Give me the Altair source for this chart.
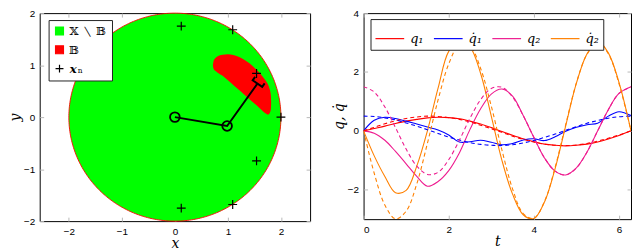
import altair as alt
import numpy as np
import pandas as pd

# ---------------- left panel data ----------------
DISK_RADIUS = 2.0
BLOB_X = [0.716, 0.73, 0.76, 0.80, 0.90, 1.00, 1.10, 1.20, 1.30, 1.40, 1.50, 1.60, 1.70, 1.76, 1.79, 1.81, 1.815]
BLOB_UPPER = [1.00, 1.08, 1.13, 1.165, 1.20, 1.21, 1.195, 1.16, 1.11, 1.04, 0.95, 0.85, 0.72, 0.62, 0.53, 0.42, 0.30]
BLOB_LOWER = [1.00, 0.93, 0.89, 0.86, 0.795, 0.71, 0.62, 0.53, 0.44, 0.35, 0.26, 0.17, 0.08, 0.05, 0.08, 0.15, 0.25]
ARM_X = [0.0, 0.985, 1.557]
ARM_Y = [0.0, -0.17, 0.645]
GRIPPER_X = [1.513, 1.467, 1.647, 1.693]
GRIPPER_Y = [0.774, 0.708, 0.582, 0.648]
JOINT_X = [0.0, 0.985]
JOINT_Y = [0.0, -0.17]
XN_X = [0.12, 1.09, 1.54, 2.0, 1.54, 1.09, 0.12]
XN_Y = [1.75, 1.68, 0.84, 0.0, -0.84, -1.68, -1.75]
LEFT_CATS = ["𝕏 ∖ 𝔹", "𝔹", "𝒙ₙ"]
LEFT_COLORS = ["#00ff00", "#ff0000", "#000000"]
PLUS = "M-1,0H1M0,-1V1"
LEFT_TICKS = [-2, -1, 0, 1, 2]

# ---------------- right panel data ----------------
T = [0.0, 0.25, 0.5, 0.75, 1.0, 1.25, 1.5, 1.75, 2.0, 2.25, 2.5, 2.75, 3.0, 3.25,
     3.5, 3.75, 4.0, 4.25, 4.5, 4.75, 5.0, 5.25, 5.5, 5.75, 6.0, 6.283]
Q1 = [0, 0.08, 0.16, 0.25, 0.33, 0.39, 0.44, 0.46, 0.45, 0.41, 0.33, 0.23, 0.11, -0.02,
      -0.15, -0.27, -0.37, -0.45, -0.49, -0.51, -0.49, -0.45, -0.38, -0.28, -0.16, 0.0]
Q1_REF = [0, 0.12, 0.24, 0.34, 0.42, 0.47, 0.5, 0.49, 0.45, 0.39, 0.3, 0.19, 0.07, -0.05,
          -0.18, -0.29, -0.38, -0.45, -0.49, -0.5, -0.48, -0.43, -0.35, -0.25, -0.14, 0.0]
DQ1 = [0, 0.36, 0.46, 0.42, 0.33, 0.23, 0.13, 0.03, -0.14, -0.38, -0.37, -0.32, -0.39, -0.47,
       -0.43, -0.31, -0.27, -0.33, -0.2, -0.01, 0.12, 0.21, 0.26, 0.5, 0.65, 0.52]
DQ1_REF = [0.5, 0.49, 0.44, 0.37, 0.27, 0.16, 0.04, -0.09, -0.21, -0.31, -0.4, -0.46, -0.49, -0.5,
           -0.47, -0.41, -0.33, -0.22, -0.11, 0.02, 0.14, 0.26, 0.35, 0.43, 0.48, 0.5]
Q2 = [0, -0.08, -0.32, -0.7, -1.12, -1.55, -1.88, -1.72, -1.35, -0.75, 0.05, 0.75, 1.25, 1.42,
      1.18, 0.52, -0.22, -0.92, -1.37, -1.5, -1.26, -0.72, 0.0, 0.72, 1.27, 1.5]
Q2_REF = [1.5, 1.32, 0.81, 0.11, -0.62, -1.2, -1.48, -1.41, -0.98, -0.32, 0.43, 1.06, 1.44, 1.48,
          1.15, 0.52, -0.22, -0.92, -1.37, -1.5, -1.26, -0.72, 0.0, 0.72, 1.27, 1.5]
DQ2 = [0, -0.85, -1.55, -2.1, -2.02, -1.2, 0.0, 1.45, 2.7, 3.05, 2.85, 1.95, 0.5, -1.0,
       -2.15, -2.85, -2.98, -2.42, -1.28, 0.18, 1.62, 2.62, 3.05, 2.65, 1.65, 0.0]
DQ2_REF = [0, -1.44, -2.52, -2.99, -2.73, -1.8, -0.42, 1.05, 2.27, 2.93, 2.88, 2.12, 0.84, -0.65,
           -1.97, -2.81, -2.97, -2.4, -1.24, 0.22, 1.63, 2.6, 3.0, 2.62, 1.61, 0.0]
SERIES = ["q₁", "q̇₁", "q₂", "q̇₂"]
COLORS = ["#ff0000", "#0000ff", "#ee1b8f", "#ff8000"]
RIGHT_XTICKS = [0, 2, 4, 6]
RIGHT_YTICKS = [-2, 0, 2, 4]

TICK_GRAY = "#b8b8b8"
MATH_FONT = "DejaVu Math TeX Gyre, DejaVu Serif"


def main_axis(orient, values, title):
    return alt.Axis(orient=orient, values=values, title=title, offset=-4, tickSize=4,
                    tickColor=TICK_GRAY, domain=False, grid=False,
                    labelPadding=5, labelFont="Liberation Sans", labelFontSize=10,
                    labelColor="black", titleFont="DejaVu Serif", titleFontStyle="italic",
                    titleFontWeight="normal", titleFontSize=14, titleColor="black",
                    titlePadding=1)


def tick_axis(orient, values):
    return alt.Axis(orient=orient, values=values, title=None, offset=-4, tickSize=4,
                    tickColor=TICK_GRAY, domain=False, grid=False, labels=False)


# ---------------- left panel ----------------
th = np.linspace(0, np.pi, 181)
disk_df = pd.DataFrame({"x": DISK_RADIUS * np.cos(th),
                        "yu": DISK_RADIUS * np.sin(th),
                        "yl": -DISK_RADIUS * np.sin(th)})
ph = np.linspace(0, 2 * np.pi, 361)
ring_df = pd.DataFrame({"x": DISK_RADIUS * np.cos(ph), "y": DISK_RADIUS * np.sin(ph),
                        "i": np.arange(len(ph))})
blob_df = pd.DataFrame({"x": BLOB_X, "yu": BLOB_UPPER, "yl": BLOB_LOWER})
arm_df = pd.DataFrame({"x": ARM_X, "y": ARM_Y, "i": range(len(ARM_X))})
grip_df = pd.DataFrame({"x": GRIPPER_X, "y": GRIPPER_Y, "i": range(len(GRIPPER_X))})
joint_df = pd.DataFrame({"x": JOINT_X, "y": JOINT_Y})
xn_df = pd.DataFrame({"x": XN_X, "y": XN_Y, "cat": [LEFT_CATS[2]] * len(XN_X)})

xs = alt.Scale(domain=[-2.55, 2.55], nice=False, zero=False)
ys = alt.Scale(domain=[-2, 2], nice=False, zero=False)

disk = alt.Chart(disk_df).mark_area(color="#00ff00", opacity=1).encode(
    x=alt.X("x:Q", scale=xs, axis=main_axis("bottom", LEFT_TICKS, "x")),
    y=alt.Y("yl:Q", scale=ys, axis=main_axis("left", LEFT_TICKS, "y")),
    y2="yu:Q")
ring = alt.Chart(ring_df).mark_line(color="#ff0000", strokeWidth=0.9).encode(
    x=alt.X("x:Q", scale=xs, axis=tick_axis("top", LEFT_TICKS)),
    y=alt.Y("y:Q", scale=ys, axis=tick_axis("right", LEFT_TICKS)),
    order="i:Q")
blob = alt.Chart(blob_df).mark_area(color="#ff0000", opacity=1, interpolate="monotone").encode(
    x=alt.X("x:Q", scale=xs, axis=None),
    y=alt.Y("yl:Q", scale=ys, axis=None),
    y2="yu:Q")
arm = alt.Chart(arm_df).mark_line(color="black", strokeWidth=2).encode(
    x=alt.X("x:Q", scale=xs, axis=None), y=alt.Y("y:Q", scale=ys, axis=None), order="i:Q")
grip = alt.Chart(grip_df).mark_line(color="black", strokeWidth=2).encode(
    x=alt.X("x:Q", scale=xs, axis=None), y=alt.Y("y:Q", scale=ys, axis=None), order="i:Q")
joints = alt.Chart(joint_df).mark_point(shape="circle", size=95, filled=False, color="black",
                                        strokeWidth=1.8, opacity=1).encode(
    x=alt.X("x:Q", scale=xs, axis=None), y=alt.Y("y:Q", scale=ys, axis=None))

left_legend = alt.Legend(title=None, orient="none", legendX=9, legendY=7, direction="vertical",
                         fillColor="white", strokeColor="#222222", padding=5,
                         labelFont=MATH_FONT, labelFontSize=12, labelColor="black",
                         symbolSize=64, rowPadding=5, labelOffset=3, symbolStrokeWidth=1.2,
                         cornerRadius=0)
plus = alt.Chart(xn_df).mark_point(filled=True, size=80, strokeWidth=1.2, opacity=1).encode(
    x=alt.X("x:Q", scale=xs, axis=None), y=alt.Y("y:Q", scale=ys, axis=None),
    fill=alt.Fill("cat:N", scale=alt.Scale(domain=LEFT_CATS, range=LEFT_COLORS), legend=left_legend),
    stroke=alt.Stroke("cat:N", scale=alt.Scale(domain=LEFT_CATS, range=LEFT_COLORS), legend=left_legend),
    shape=alt.Shape("cat:N", scale=alt.Scale(domain=LEFT_CATS, range=["square", "square", PLUS]),
                    legend=left_legend))

left = alt.layer(disk, ring, blob, arm, grip, joints, plus).resolve_axis(
    x="independent", y="independent").properties(width=273, height=210)

# ---------------- right panel ----------------
solid_vals = [Q1, DQ1, Q2, DQ2]
ref_vals = [Q1_REF, DQ1_REF, Q2_REF, DQ2_REF]
solid_df = pd.DataFrame([{"t": t, "v": v, "s": s} for s, vals in zip(SERIES, solid_vals)
                         for t, v in zip(T, vals)])
ref_df = pd.DataFrame([{"t": t, "v": v, "s": s} for s, vals in zip(SERIES, ref_vals)
                       for t, v in zip(T, vals)])

ts = alt.Scale(domain=[0, 6.283], nice=False, zero=False)
vs = alt.Scale(domain=[-3, 4], nice=False, zero=False)
cs = alt.Scale(domain=SERIES, range=COLORS)

# legends of a concatenated chart are placed relative to the first panel's plot origin
right_legend = alt.Legend(title=None, orient="none", legendX=334, legendY=6, direction="horizontal",
                          columns=4, fillColor="white", strokeColor="#222222", padding=4,
                          labelFont="DejaVu Serif", labelFontStyle="italic", labelFontSize=13,
                          labelColor="black", symbolType="stroke", symbolSize=840,
                          symbolStrokeWidth=1.2, columnPadding=7, labelOffset=5, cornerRadius=0)

solid = alt.Chart(solid_df).mark_line(strokeWidth=1.1, clip=True, interpolate="catmull-rom").encode(
    x=alt.X("t:Q", scale=ts, axis=main_axis("bottom", RIGHT_XTICKS, "t")),
    y=alt.Y("v:Q", scale=vs, axis=main_axis("left", RIGHT_YTICKS, "q, q̇")),
    color=alt.Color("s:N", scale=cs, legend=right_legend),
    detail="s:N")
dashed = alt.Chart(ref_df).mark_line(strokeWidth=1.1, clip=True, strokeDash=[4, 3],
                                     interpolate="catmull-rom").encode(
    x=alt.X("t:Q", scale=ts, axis=tick_axis("top", RIGHT_XTICKS)),
    y=alt.Y("v:Q", scale=vs, axis=tick_axis("right", RIGHT_YTICKS)),
    color=alt.Color("s:N", scale=cs, legend=None),
    detail="s:N")

right = alt.layer(solid, dashed).resolve_axis(
    x="independent", y="independent").properties(width=270, height=208)

chart = alt.hconcat(left, right, spacing=21).properties(
    padding={"left": 0, "top": -2, "right": 0, "bottom": 0},
    background="white").configure_view(stroke="black", strokeWidth=1)

chart.save("out.html", embed_options={"renderer": "svg", "actions": False})
